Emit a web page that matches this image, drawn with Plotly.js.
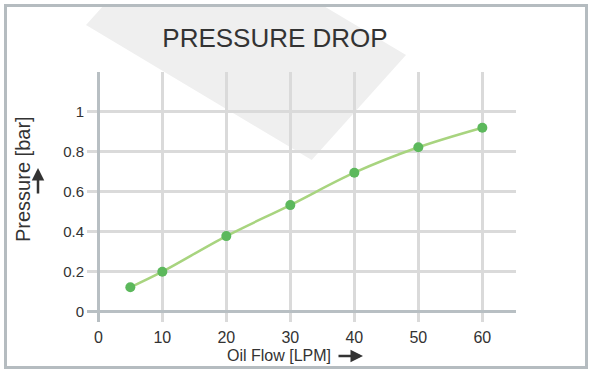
<!DOCTYPE html>
<html>
<head>
<meta charset="utf-8">
<script src="https://cdn.plot.ly/plotly-3.0.1.min.js"></script>
<style>html,body{margin:0;padding:0;background:#fff;}#chart{width:593px;height:374px;}</style>
</head>
<body>
<div id="chart"></div>
<script>
// Data
const oilFlow = [5, 10, 20, 30, 40, 50, 60];
const pressure = [0.122, 0.2, 0.378, 0.533, 0.695, 0.822, 0.92];
const xTicks = [0, 10, 20, 30, 40, 50, 60];
const yTicks = [0, 0.2, 0.4, 0.6, 0.8, 1];
const yTickText = ['0', '0.2', '0.4', '0.6', '0.8', '1'];

// layout geometry (pixels)
const L = 87, T = 72, W = 429, H = 250;
const px = x => (x - L) / W;
const py = y => (T + H - y) / H;
const pathFrom = pts => 'M ' + pts.map(p => px(p[0]).toFixed(4) + ',' + py(p[1]).toFixed(4)).join(' L ') + ' Z';

const sans = '"Liberation Sans", Arial, sans-serif';

const trace = {
  x: oilFlow, y: pressure, type: 'scatter', mode: 'lines+markers',
  line: {shape: 'spline', color: '#a8d47f', width: 2.5},
  marker: {color: '#5cb85c', size: 10},
  hoverinfo: 'skip'
};

const layout = {
  width: 593, height: 374,
  margin: {l: L, r: 593 - L - W, t: T, b: 374 - T - H, pad: 0},
  paper_bgcolor: '#ffffff', plot_bgcolor: 'rgba(0,0,0,0)',
  showlegend: false,
  title: {text: 'PRESSURE DROP', font: {family: sans, size: 26, color: '#333'},
          xref: 'container', yref: 'container', x: 275 / 593, y: 1 - 38 / 374,
          xanchor: 'center', yanchor: 'middle'},
  xaxis: {range: [-1.77, 65.26], tickvals: xTicks, ticktext: xTicks.map(String),
          showgrid: true, gridcolor: '#dadada', gridwidth: 3,
          zeroline: true, zerolinecolor: '#b8bfc3', zerolinewidth: 3,
          showline: false, ticks: '', ticklabelstandoff: 4,
          tickfont: {family: sans, size: 16, color: '#333'}, fixedrange: true},
  yaxis: {range: [-0.0515, 1.1985], tickvals: yTicks, ticktext: yTickText,
          showgrid: true, gridcolor: '#dadada', gridwidth: 3,
          zeroline: true, zerolinecolor: '#b8bfc3', zerolinewidth: 3,
          showline: false, ticks: '', ticklabelstandoff: 2,
          tickfont: {family: sans, size: 15, color: '#333'}, fixedrange: true},
  shapes: [
    {type: 'path', xref: 'paper', yref: 'paper', layer: 'below',
     path: pathFrom([[86, 25], [104, 5], [322, 5], [406, 55], [311.7, 160]]),
     fillcolor: '#efefef', line: {width: 0}},
    {type: 'rect', xref: 'paper', yref: 'paper', layer: 'above',
     x0: px(5.5), x1: px(586.5), y0: py(367.5), y1: py(5.5),
     line: {color: '#b5bcc0', width: 3}, fillcolor: 'rgba(0,0,0,0)'}
  ],
  annotations: [
    {xref: 'paper', yref: 'paper', x: px(23), y: py(179), text: 'Pressure [bar]',
     textangle: -90, showarrow: false, xanchor: 'center', yanchor: 'middle',
     font: {family: sans, size: 20, color: '#333'}},
    {xref: 'paper', yref: 'paper', x: px(38), y: py(168), text: '',
     showarrow: true, ax: 0, ay: 27, arrowhead: 2, arrowsize: 1, arrowwidth: 2.5, arrowcolor: '#333'},
    {xref: 'paper', yref: 'paper', x: px(279), y: py(355), text: 'Oil Flow [LPM]',
     showarrow: false, xanchor: 'center', yanchor: 'middle',
     font: {family: sans, size: 16, color: '#333'}},
    {xref: 'paper', yref: 'paper', x: px(363), y: py(356), text: '',
     showarrow: true, ax: -26, ay: 0, arrowhead: 2, arrowsize: 1, arrowwidth: 2.5, arrowcolor: '#333'}
  ]
};

Plotly.newPlot('chart', [trace], layout, {displayModeBar: false, staticPlot: true});
</script>
</body>
</html>
